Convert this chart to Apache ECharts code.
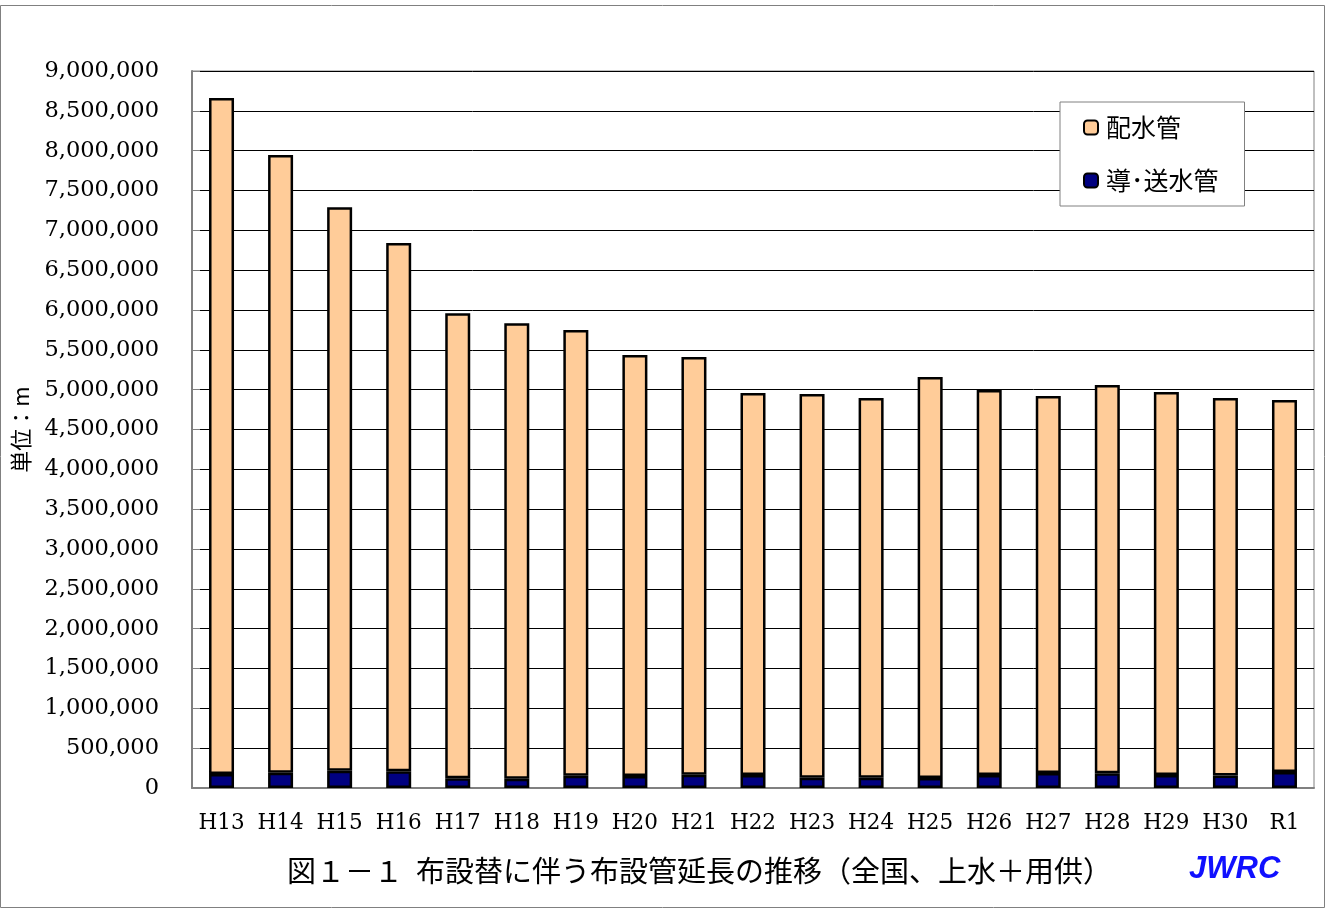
<!DOCTYPE html>
<html><head><meta charset="utf-8">
<script src="https://cdn.jsdelivr.net/npm/echarts@6/dist/echarts.min.js"></script>
<style>html,body{margin:0;padding:0;background:#fff}#c{width:1330px;height:911px}</style>
</head><body><div id="c"></div>
<script>
const categories = ['H13','H14','H15','H16','H17','H18','H19','H20','H21','H22','H23','H24','H25','H26','H27','H28','H29','H30','R1'];
const totals = [8660000,7945000,7290000,6840000,5960000,5835000,5750000,5435000,5410000,4958000,4945000,4895000,5160000,4996000,4920000,5058000,4970000,4895000,4870000];
const dousou = [176000,192000,217000,210000,122000,115000,155000,150000,167000,163000,130000,130000,125000,163000,188000,185000,163000,158000,200000];
const haisui = totals.map((t,i)=>t-dousou[i]);
const yTicks = {min:0, max:9000000, interval:500000};
const titleText = '図１－１  布設替に伴う布設管延長の推移（全国、上水＋用供）';

const chart = echarts.init(document.getElementById('c'));
const fmt = v => String(v).replace(/\B(?=(\d{3})+(?!\d))/g, ',');
chart.setOption({
  animation:false,
  backgroundColor:'#fff',
  grid:{left:192,right:16,top:71,bottom:123,show:true,borderColor:'#808080',borderWidth:1},
  legend:{
    orient:'vertical', left:1060, top:102,
    data:['配水管','導･送水管'],
    backgroundColor:'#fff', borderColor:'#808080', borderWidth:1,
    padding:[13,26,13,23], itemGap:28, itemWidth:14, itemHeight:14,
    textStyle:{fontFamily:'Noto Sans CJK JP', fontSize:25, color:'#000', padding:[0,0,0,3]},
    itemStyle:{borderColor:'#000', borderWidth:2}
  },
  xAxis:{
    type:'category', data:categories,
    axisLine:{lineStyle:{color:'#808080',width:2}},
    axisTick:{inside:true, length:7, lineStyle:{color:'#808080'}},
    axisLabel:{interval:0, hideOverlap:false, fontFamily:'DejaVu Serif', fontSize:21.5, color:'#000', margin:24}
  },
  yAxis:{
    type:'value', min:yTicks.min, max:yTicks.max, interval:yTicks.interval,
    name:'単位：m', nameLocation:'middle', nameGap:160, nameRotate:90,
    nameTextStyle:{fontFamily:'Noto Sans CJK JP', fontSize:22, color:'#000'},
    axisLine:{show:true, lineStyle:{color:'#808080',width:2}},
    axisTick:{show:true, inside:true, length:8, lineStyle:{color:'#808080'}},
    splitLine:{lineStyle:{color:'#000',width:1}},
    axisLabel:{fontFamily:'DejaVu Serif', fontSize:22.5, color:'#000', margin:33, formatter:fmt}
  },
  series:[
    {name:'導･送水管', type:'bar', stack:'a', data:dousou, barWidth:25,
     itemStyle:{color:'#000080', borderColor:'#000', borderWidth:2.5}},
    {name:'配水管', type:'bar', stack:'a', data:haisui, barWidth:25,
     itemStyle:{color:'#FFCC99', borderColor:'#000', borderWidth:2.5}}
  ],
  graphic:[
    {type:'rect', shape:{x:0.5,y:5.5,width:1324,height:902}, style:{fill:null, stroke:'#808080', lineWidth:1}, silent:true, z:-1},
    {type:'text', left:287, top:856, style:{text:titleText, font:'29px "Noto Sans CJK JP"', fill:'#000'}},
    {type:'text', left:1189, top:854, style:{text:'JWRC', font:'italic bold 31px "Liberation Sans"', fill:'#1010ff'}}
  ]
});
</script></body></html>
